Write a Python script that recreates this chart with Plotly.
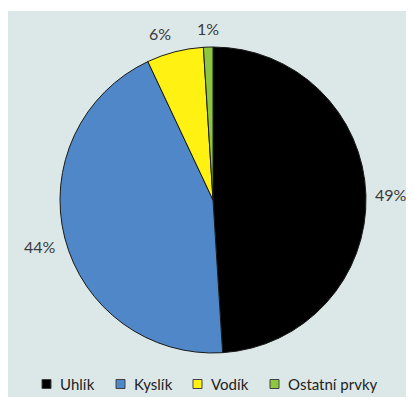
import numpy as np
import plotly.graph_objects as go

labels = ["Uhlík", "Kyslík", "Vodík", "Ostatní prvky"]
values = [49, 44, 6, 1]
colors = ["#000000", "#4F87C8", "#FFF212", "#8DC63F"]

W, H = 406, 389          # figure size (page body margin is 8px)
CX, CY, R = 205, 192, 153  # pie centre / radius in figure pixels
FONT = "Lato"
TXT = "#3a3a3a"

def px(x):
    return x / W

def py(y):
    return 1 - y / H

fig = go.Figure()
fig.add_trace(go.Pie(
    labels=labels, values=values, sort=False, direction="clockwise", rotation=0,
    marker=dict(colors=colors, line=dict(color="#1a1a1a", width=1)),
    textinfo="none", hoverinfo="label+percent",
    domain=dict(x=[px(CX - R), px(CX + R)], y=[py(CY + R), py(CY - R)]),
    showlegend=False,
))

# percentage labels placed just outside each slice's middle angle
vals = np.array(values, dtype=float)
share = vals / vals.sum()
mid = (np.cumsum(share) - share / 2) * 2 * np.pi
for s, a in zip(share, mid):
    sx, sy = np.sin(a), -np.cos(a)
    x = CX + (R + 7) * sx
    y = CY + (R + 7) * sy
    xa = "left" if sx > 0.3 else ("right" if sx < -0.2 else "center")
    ya = "top" if sy > 0.2 else ("bottom" if sy < -0.2 else "middle")
    fig.add_annotation(x=px(x), y=py(y), xref="paper", yref="paper",
                       text=f"{round(s * 100)}%", showarrow=False,
                       xanchor=xa, yanchor=ya, yshift=5 if ya == "top" else 0,
                       font=dict(family=FONT, size=16, color=TXT))

# legend (drawn manually to match spacing)
leg_x = [34, 108, 185, 262]
leg_y = 376
for lab, col, lx in zip(labels, colors, leg_x):
    fig.add_shape(type="rect", xref="paper", yref="paper",
                  x0=px(lx), x1=px(lx + 9), y0=py(leg_y + 4.5), y1=py(leg_y - 4.5),
                  fillcolor=col, line=dict(color="#404040", width=1))
    fig.add_annotation(x=px(lx + 16), y=py(leg_y), xref="paper", yref="paper",
                       text=lab, showarrow=False, xanchor="left", yanchor="middle",
                       font=dict(family=FONT, size=15, color="#222222"))

# thin white strip above the panel
fig.add_shape(type="rect", xref="paper", yref="paper",
              x0=0, x1=1, y0=py(3), y1=1, fillcolor="white", line=dict(width=0),
              layer="below")

fig.update_layout(
    width=W, height=H, margin=dict(l=0, r=0, t=0, b=0),
    paper_bgcolor="#DCE8E8", plot_bgcolor="#DCE8E8",
)
fig.write_html("out.html")
